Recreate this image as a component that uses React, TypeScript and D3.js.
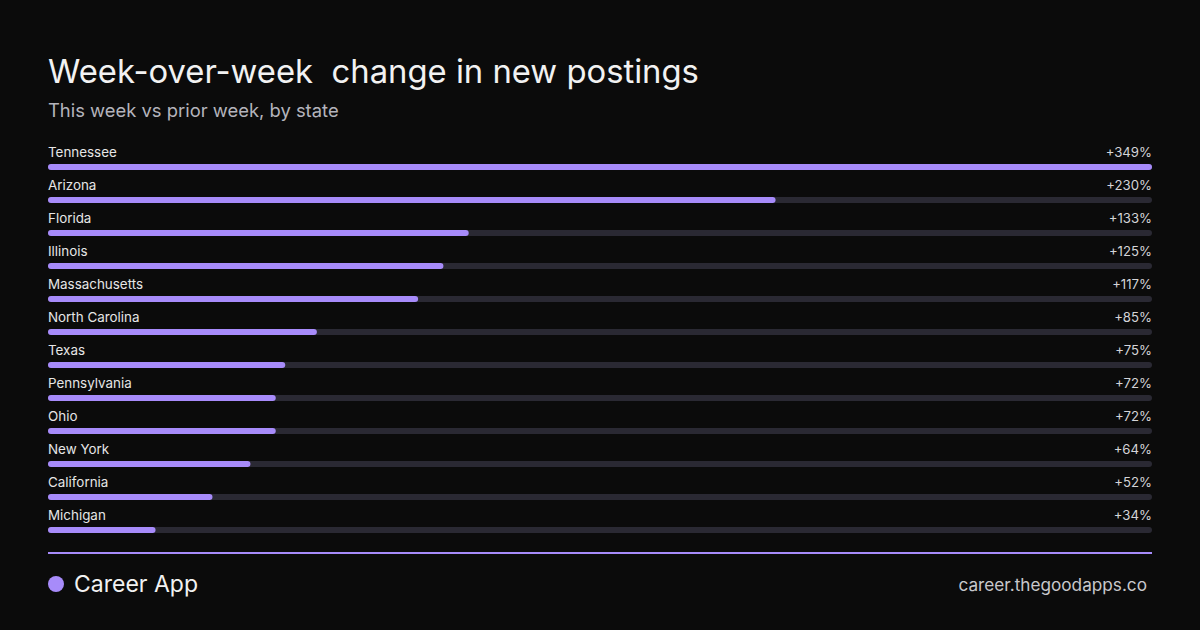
import React from "react";
import * as d3 from "d3";

const states = ["Tennessee","Arizona","Florida","Illinois","Massachusetts","North Carolina","Texas","Pennsylvania","Ohio","New York","California","Michigan"];
const changes = [349,230,133,125,117,85,75,72,72,64,52,34];

const W = 1200, H = 630;
const left = 48, right = 1152;
const FONT = "Inter, 'Noto Sans', sans-serif";

export default function App() {
  const x = d3.scaleLinear().domain([0, d3.max(changes) as number]).range([0, right - left]);
  const y = d3.scaleBand<string>().domain(states).range([144, 144 + 33 * states.length]).paddingInner(0);
  return (
    <svg width={W} height={H} style={{ display: "block", position: "absolute", left: 0, top: 0 }} fontFamily={FONT}>
      <rect width={W} height={H} fill="#0b0b0b" />
      <text x={48} y={83} fill="#f2f2f2" fontSize={32.8} style={{ whiteSpace: "pre" }}>{"Week-over-week  change in new postings"}</text>
      <text x={48} y={117} fill="#b4b4bc" fontSize={18.4}>This week vs prior week, by state</text>
      {states.map((s, i) => {
        const top = y(s) as number;
        return (
          <g key={s}>
            <text x={left} y={top + 13} fill="#e6e6e6" fontSize={13.4}>{s}</text>
            <text x={right} y={top + 13} fill="#d4d4d8" fontSize={13.2} textAnchor="end">{"+" + changes[i] + "%"}</text>
            <rect x={left} y={top + 20} width={right - left} height={6} rx={3} fill="#2a2933" />
            <rect x={left} y={top + 20} width={x(changes[i])} height={6} rx={3} fill="#a78bfa" />
          </g>
        );
      })}
      <rect x={48} y={552} width={1104} height={2} fill="#a78bfa" />
      <circle cx={56} cy={584} r={8} fill="#a78bfa" />
      <text x={74} y={592} fill="#f2f2f2" fontSize={23}>Career App</text>
      <text x={1147} y={591} fill="#c8c8cc" fontSize={17.2} textAnchor="end">career.thegoodapps.co</text>
    </svg>
  );
}
